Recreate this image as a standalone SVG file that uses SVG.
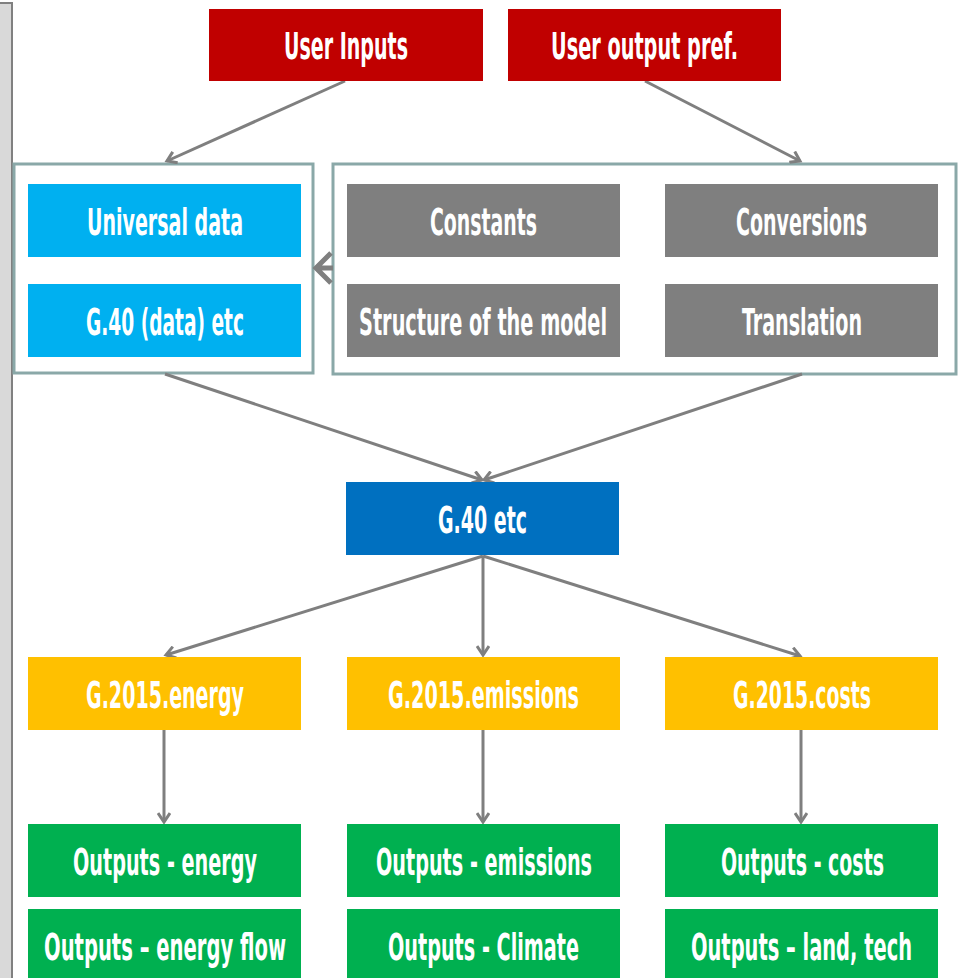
<svg xmlns="http://www.w3.org/2000/svg" width="961" height="978" viewBox="0 0 961 978">
  <defs>
    <marker id="chev" markerWidth="14" markerHeight="14" viewBox="0 0 14 14" refX="11" refY="7" orient="auto" markerUnits="userSpaceOnUse">
      <path d="M2,1 L11,7 L2,13" fill="none" stroke="#7f7f7f" stroke-width="3"/>
    </marker>
  </defs>
  <style>
    .lbl { font-family: "Liberation Sans Narrow", "DejaVu Sans Condensed", "Liberation Sans", sans-serif; font-weight: bold; font-size: 38px; fill: #ffffff; text-anchor: start; }
    .red { fill: #c00000; }
    .cyan { fill: #00b0f0; }
    .grey { fill: #7f7f7f; }
    .blue { fill: #0070c0; }
    .amber { fill: #ffc000; }
    .green { fill: #00b050; }
    .frame { fill: #ffffff; stroke: #8aa8a8; stroke-width: 3; }
    .link { fill: none; stroke: #7f7f7f; stroke-width: 3; marker-end: url(#chev); }
  </style>

  <rect width="961" height="978" fill="#ffffff"/>
  <!-- side bar -->
  <rect x="-2" y="3" width="14" height="980" fill="#d9d9d9" stroke="#808080" stroke-width="2"/>

  <!-- container frames -->
  <g id="frame-data"><rect class="frame" x="14" y="164" width="299" height="209"/></g>
  <g id="frame-model"><rect class="frame" x="333" y="164" width="623" height="210"/></g>

  <g id="connectors">
    <line class="link" x1="345" y1="81" x2="167" y2="161"/>
    <line class="link" x1="645" y1="81" x2="800" y2="161"/>
    <path d="M331,253 L316,268 L331,283 M316,268 L333,268" fill="none" stroke="#7f7f7f" stroke-width="5"/>
    <line class="link" x1="165" y1="374" x2="482" y2="480"/>
    <line class="link" x1="802" y1="374" x2="484" y2="480"/>
    <line class="link" x1="483" y1="556" x2="166" y2="655"/>
    <line class="link" x1="483" y1="556" x2="483" y2="655"/>
    <line class="link" x1="483" y1="556" x2="800" y2="656"/>
    <line class="link" x1="164" y1="730" x2="164" y2="822"/>
    <line class="link" x1="483" y1="730" x2="483" y2="822"/>
    <line class="link" x1="801" y1="720" x2="801" y2="822"/>
  </g>

  <g id="user-inputs"><rect class="red" x="209" y="9" width="274" height="72"/><text class="lbl" x="284" y="59" textLength="124" lengthAdjust="spacingAndGlyphs">User Inputs</text></g>
  <g id="user-output-pref"><rect class="red" x="508" y="9" width="273" height="72"/><text class="lbl" x="551" y="59" textLength="187" lengthAdjust="spacingAndGlyphs">User output pref.</text></g>

  <g id="universal-data"><rect class="cyan" x="28" y="184" width="273" height="73"/><text class="lbl" x="87" y="235" textLength="156" lengthAdjust="spacingAndGlyphs">Universal data</text></g>
  <g id="g40-data"><rect class="cyan" x="28" y="284" width="273" height="73"/><text class="lbl" x="86" y="335" textLength="158" lengthAdjust="spacingAndGlyphs">G.40 (data) etc</text></g>

  <g id="constants"><rect class="grey" x="347" y="184" width="273" height="73"/><text class="lbl" x="430" y="235" textLength="107" lengthAdjust="spacingAndGlyphs">Constants</text></g>
  <g id="conversions"><rect class="grey" x="665" y="184" width="273" height="73"/><text class="lbl" x="736" y="235" textLength="131" lengthAdjust="spacingAndGlyphs">Conversions</text></g>
  <g id="structure"><rect class="grey" x="347" y="284" width="273" height="73"/><text class="lbl" x="359" y="335" textLength="248" lengthAdjust="spacingAndGlyphs">Structure of the model</text></g>
  <g id="translation"><rect class="grey" x="665" y="284" width="273" height="73"/><text class="lbl" x="742" y="335" textLength="120" lengthAdjust="spacingAndGlyphs">Translation</text></g>

  <g id="g40"><rect class="blue" x="346" y="482" width="273" height="73"/><text class="lbl" x="438" y="533" textLength="89" lengthAdjust="spacingAndGlyphs">G.40 etc</text></g>

  <g id="g2015-energy"><rect class="amber" x="28" y="657" width="273" height="73"/><text class="lbl" x="86" y="708" textLength="158" lengthAdjust="spacingAndGlyphs">G.2015.energy</text></g>
  <g id="g2015-emissions"><rect class="amber" x="347" y="657" width="273" height="73"/><text class="lbl" x="388" y="708" textLength="191" lengthAdjust="spacingAndGlyphs">G.2015.emissions</text></g>
  <g id="g2015-costs"><rect class="amber" x="665" y="657" width="273" height="73"/><text class="lbl" x="733" y="708" textLength="138" lengthAdjust="spacingAndGlyphs">G.2015.costs</text></g>

  <g id="out-energy"><rect class="green" x="28" y="824" width="273" height="73"/><text class="lbl" x="73" y="875" textLength="184" lengthAdjust="spacingAndGlyphs">Outputs - energy</text></g>
  <g id="out-emissions"><rect class="green" x="347" y="824" width="273" height="73"/><text class="lbl" x="376" y="875" textLength="216" lengthAdjust="spacingAndGlyphs">Outputs - emissions</text></g>
  <g id="out-costs"><rect class="green" x="665" y="824" width="273" height="73"/><text class="lbl" x="721" y="875" textLength="163" lengthAdjust="spacingAndGlyphs">Outputs - costs</text></g>

  <g id="out-energy-flow"><rect class="green" x="28" y="909" width="273" height="73"/><text class="lbl" x="44" y="960" textLength="242" lengthAdjust="spacingAndGlyphs">Outputs – energy flow</text></g>
  <g id="out-climate"><rect class="green" x="347" y="909" width="273" height="73"/><text class="lbl" x="388" y="960" textLength="191" lengthAdjust="spacingAndGlyphs">Outputs - Climate</text></g>
  <g id="out-land-tech"><rect class="green" x="665" y="909" width="273" height="73"/><text class="lbl" x="691" y="960" textLength="221" lengthAdjust="spacingAndGlyphs">Outputs – land, tech</text></g>
</svg>
